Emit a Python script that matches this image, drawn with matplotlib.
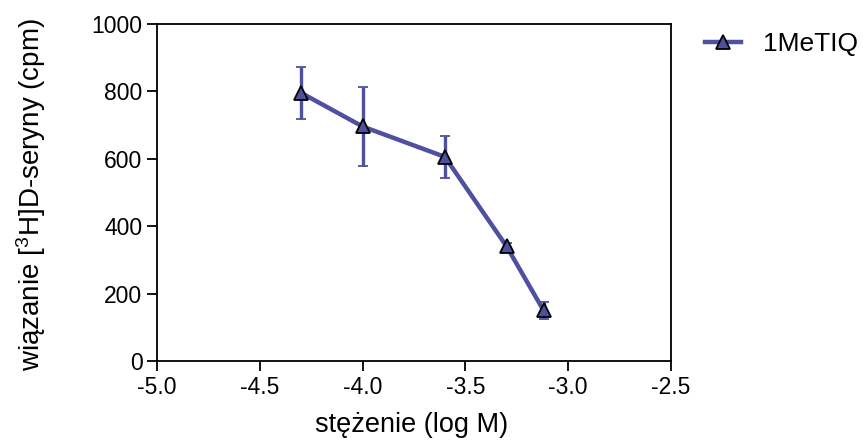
import matplotlib
matplotlib.use('Agg')
import matplotlib.pyplot as plt
from matplotlib.lines import Line2D

plt.rcParams['font.family'] = ['Liberation Sans', 'DejaVu Sans']
plt.rcParams['mathtext.fontset'] = 'custom'
plt.rcParams['mathtext.rm'] = 'Liberation Sans'
plt.rcParams['mathtext.it'] = 'Liberation Sans'

# log stezenie (M) and binding (cpm)
log_conc = [-4.30, -4.00, -3.60, -3.30, -3.12]
binding = [795, 695, 605, 340, 150]
sem = [77, 117, 62, 10, 25]

series_label = '1MeTIQ'
x_ticks = [-5.0, -4.5, -4.0, -3.5, -3.0, -2.5]
y_ticks = [0, 200, 400, 600, 800, 1000]

color = '#5050a0'

fig = plt.figure(figsize=(8.65, 4.45), dpi=100)
ax = fig.add_axes([0.1815, 0.1888, 0.5942, 0.7582])

ax.errorbar(log_conc, binding, yerr=sem, color=color, linewidth=3.2,
            elinewidth=2.4, capsize=3.5, capthick=2.8,
            marker='^', markersize=9.5, markerfacecolor=color,
            markeredgecolor='black', markeredgewidth=1.3)

ax.set_xlim(-5.0, -2.5)
ax.set_ylim(0, 1000)
ax.set_xticks(x_ticks)
ax.set_xticklabels([f'{t:.1f}' for t in x_ticks])
ax.set_yticks(y_ticks)

for s in ax.spines.values():
    s.set_linewidth(1.3)
ax.tick_params(axis='both', direction='out', length=7, width=1.3,
               labelsize=16.5, top=False, right=False)
ax.tick_params(axis='x', pad=4)
ax.tick_params(axis='y', pad=3.5)

ax.set_xlabel('stężenie (log M)', fontsize=19.5)
ax.set_ylabel(r'wiązanie [$^{3}$H]D-seryny (cpm)', fontsize=20)
ax.xaxis.set_label_coords(0.495, -0.15)
ax.yaxis.set_label_coords(-0.212, 0.492)

handle = Line2D([], [], color=color, linewidth=3.2, marker='^',
                markersize=9.5, markerfacecolor=color,
                markeredgecolor='black', markeredgewidth=1.3)
fig.legend([handle], [series_label], loc='center left',
           bbox_to_anchor=(0.787, 0.9), frameon=False,
           fontsize=19, handlelength=1.4, handletextpad=0.8)

fig.savefig('out.png', dpi=100)
